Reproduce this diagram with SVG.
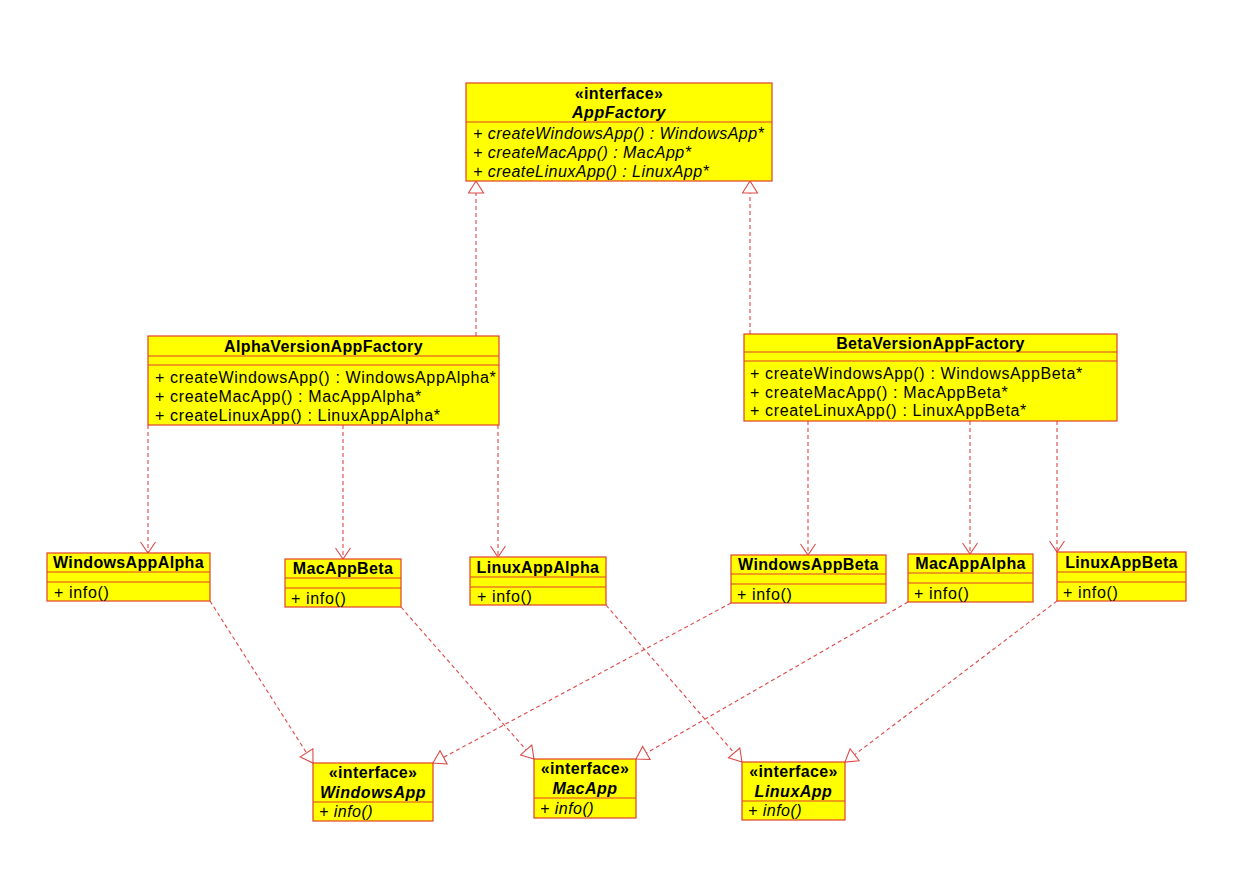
<svg xmlns="http://www.w3.org/2000/svg" width="1236" height="872" viewBox="0 0 1236 872">
<style>
.box{fill:#FFFF00;stroke:#E0402A;stroke-width:1.2}
.div{stroke:#E0402A;stroke-width:1.2}
text{font-family:"Liberation Sans",Arial,sans-serif;font-size:16px;fill:#000;letter-spacing:0.65px}
.t{font-weight:bold;text-anchor:middle;letter-spacing:0.35px}
.ti{font-weight:bold;font-style:italic;text-anchor:middle;letter-spacing:0.5px}
.i{font-style:italic;letter-spacing:0.48px}
.c{fill:none;stroke:#E04848;stroke-width:1.1;stroke-dasharray:4 3}
</style>
<defs>
<marker id="tri" viewBox="0 0 14 17" refX="13" refY="8.5" markerWidth="14" markerHeight="17" orient="auto" markerUnits="userSpaceOnUse"><path d="M1,1 L13,8.5 L1,16 Z" fill="#fff" stroke="#E04848" stroke-width="1.1"/></marker>
<marker id="opn" viewBox="0 0 13 17" refX="12" refY="8.5" markerWidth="13" markerHeight="17" orient="auto" markerUnits="userSpaceOnUse"><path d="M1,1 L12,8.5 L1,16" fill="none" stroke="#E04848" stroke-width="1.1"/></marker>
</defs>
<rect width="1236" height="872" fill="#fff"/>

<g id="connectors">
<path class="c" d="M476,336 L476,181" marker-end="url(#tri)"/>
<path class="c" d="M750,334 L750,181" marker-end="url(#tri)"/>
<path class="c" d="M148,425 L148,553" marker-end="url(#opn)"/>
<path class="c" d="M343,425 L343,559" marker-end="url(#opn)"/>
<path class="c" d="M498,425 L498,557" marker-end="url(#opn)"/>
<path class="c" d="M808,421 L808,555" marker-end="url(#opn)"/>
<path class="c" d="M970,421 L970,554" marker-end="url(#opn)"/>
<path class="c" d="M1057,421 L1057,552" marker-end="url(#opn)"/>
<path class="c" d="M210,601 L313,763" marker-end="url(#tri)"/>
<path class="c" d="M401,607 L534,759" marker-end="url(#tri)"/>
<path class="c" d="M606,605 L742,762" marker-end="url(#tri)"/>
<path class="c" d="M731,603 L433,763" marker-end="url(#tri)"/>
<path class="c" d="M908,602 L636,759" marker-end="url(#tri)"/>
<path class="c" d="M1057,601 L845,762" marker-end="url(#tri)"/>
</g>

<g id="AppFactory">
<rect class="box" x="466" y="83" width="306" height="98"/>
<line class="div" x1="466" y1="122" x2="772" y2="122"/>
<text class="t" x="619" y="99">«interface»</text>
<text class="ti" x="619" y="118">AppFactory</text>
<text class="i" x="473" y="139">+ createWindowsApp() : WindowsApp*</text>
<text class="i" x="473" y="158">+ createMacApp() : MacApp*</text>
<text class="i" x="473" y="177">+ createLinuxApp() : LinuxApp*</text>
</g>

<g id="AlphaVersionAppFactory">
<rect class="box" x="148" y="336" width="351" height="89"/>
<line class="div" x1="148" y1="356" x2="499" y2="356"/>
<line class="div" x1="148" y1="365" x2="499" y2="365"/>
<text class="t" x="323.5" y="352">AlphaVersionAppFactory</text>
<text x="155" y="383">+ createWindowsApp() : WindowsAppAlpha*</text>
<text x="155" y="402">+ createMacApp() : MacAppAlpha*</text>
<text x="155" y="421">+ createLinuxApp() : LinuxAppAlpha*</text>
</g>

<g id="BetaVersionAppFactory">
<rect class="box" x="744" y="334" width="373" height="87"/>
<line class="div" x1="744" y1="352" x2="1117" y2="352"/>
<line class="div" x1="744" y1="361" x2="1117" y2="361"/>
<text class="t" x="930.5" y="349">BetaVersionAppFactory</text>
<text x="750" y="379">+ createWindowsApp() : WindowsAppBeta*</text>
<text x="750" y="398">+ createMacApp() : MacAppBeta*</text>
<text x="750" y="416">+ createLinuxApp() : LinuxAppBeta*</text>
</g>

<g id="WindowsAppAlpha">
<rect class="box" x="47" y="553" width="163" height="48"/>
<line class="div" x1="47" y1="572" x2="210" y2="572"/>
<line class="div" x1="47" y1="582" x2="210" y2="582"/>
<text class="t" x="128.5" y="568">WindowsAppAlpha</text>
<text x="54" y="598">+ info()</text>
</g>

<g id="MacAppBeta">
<rect class="box" x="285" y="559" width="116" height="48"/>
<line class="div" x1="285" y1="578" x2="401" y2="578"/>
<line class="div" x1="285" y1="588" x2="401" y2="588"/>
<text class="t" x="343" y="574">MacAppBeta</text>
<text x="291" y="604">+ info()</text>
</g>

<g id="LinuxAppAlpha">
<rect class="box" x="470" y="557" width="136" height="48"/>
<line class="div" x1="470" y1="577" x2="606" y2="577"/>
<line class="div" x1="470" y1="587" x2="606" y2="587"/>
<text class="t" x="538" y="573">LinuxAppAlpha</text>
<text x="477" y="602">+ info()</text>
</g>

<g id="WindowsAppBeta">
<rect class="box" x="731" y="555" width="155" height="48"/>
<line class="div" x1="731" y1="574" x2="886" y2="574"/>
<line class="div" x1="731" y1="584" x2="886" y2="584"/>
<text class="t" x="808.5" y="570">WindowsAppBeta</text>
<text x="737" y="600">+ info()</text>
</g>

<g id="MacAppAlpha">
<rect class="box" x="908" y="554" width="125" height="48"/>
<line class="div" x1="908" y1="573" x2="1033" y2="573"/>
<line class="div" x1="908" y1="583" x2="1033" y2="583"/>
<text class="t" x="970.5" y="569">MacAppAlpha</text>
<text x="914" y="599">+ info()</text>
</g>

<g id="LinuxAppBeta">
<rect class="box" x="1057" y="552" width="129" height="49"/>
<line class="div" x1="1057" y1="572" x2="1186" y2="572"/>
<line class="div" x1="1057" y1="582" x2="1186" y2="582"/>
<text class="t" x="1121.5" y="568">LinuxAppBeta</text>
<text x="1063" y="598">+ info()</text>
</g>

<g id="WindowsApp">
<rect class="box" x="313" y="763" width="120" height="58"/>
<line class="div" x1="313" y1="802" x2="433" y2="802"/>
<text class="t" x="373" y="778">«interface»</text>
<text class="ti" x="373" y="798">WindowsApp</text>
<text class="i" x="319" y="817">+ info()</text>
</g>

<g id="MacApp">
<rect class="box" x="534" y="759" width="102" height="59"/>
<line class="div" x1="534" y1="798" x2="636" y2="798"/>
<text class="t" x="585" y="774">«interface»</text>
<text class="ti" x="585" y="794">MacApp</text>
<text class="i" x="540" y="814">+ info()</text>
</g>

<g id="LinuxApp">
<rect class="box" x="742" y="762" width="103" height="58"/>
<line class="div" x1="742" y1="801" x2="845" y2="801"/>
<text class="t" x="793.5" y="777">«interface»</text>
<text class="ti" x="793.5" y="797">LinuxApp</text>
<text class="i" x="748" y="816">+ info()</text>
</g>
</svg>
